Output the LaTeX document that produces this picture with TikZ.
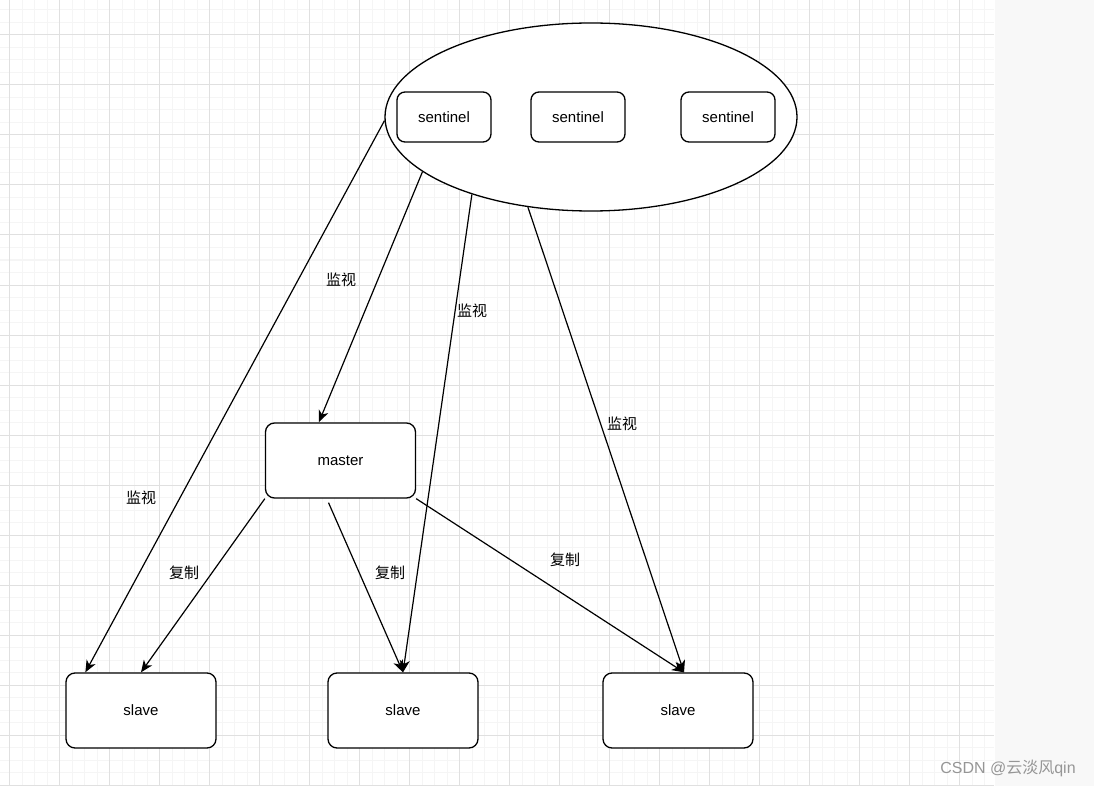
\documentclass[tikz,border=0pt]{standalone}
\usepackage{fontspec}
\setmainfont{Liberation Sans}
\newfontfamily\cjk{Noto Sans CJK SC}
\usetikzlibrary{shapes.geometric, arrows.meta}
\definecolor{gridminor}{RGB}{245,245,245}
\definecolor{gridmajor}{RGB}{224,224,224}
\definecolor{panelgray}{RGB}{248,248,248}
\definecolor{markgray}{RGB}{150,150,150}
\tikzset{
  nodebox/.style={draw, line width=1.3pt, rounded corners=9pt, fill=white, minimum width=150pt, minimum height=75pt, font=\fontsize{15}{18}\selectfont},
  sentbox/.style={nodebox, minimum width=94pt, minimum height=50pt, rounded corners=8pt},
  link/.style={line width=1.2pt, -{Stealth[length=12pt,width=10pt,inset=3.5pt]}},
  lbl/.style={font=\cjk\fontsize{15}{18}\selectfont}
}

\begin{document}
\begin{tikzpicture}[x=1pt,y=-1pt]
\useasboundingbox (0,0) rectangle (1094,786);
\fill[white] (0,0) rectangle (995,786);
\fill[panelgray] (995,0) rectangle (1094,786);
% grid
\foreach \gx in {-3,9.5,...,994} \draw[gridminor, line width=1pt] (\gx,0) -- (\gx,786);
\foreach \gy in {-2.5,10,...,786} \draw[gridminor, line width=1pt] (0,\gy) -- (994,\gy);
\foreach \gx in {9.5,59.5,...,994} \draw[gridmajor, line width=1pt] (\gx,0) -- (\gx,786);
\foreach \gy in {35,85,...,786} \draw[gridmajor, line width=1pt] (0,\gy) -- (994,\gy);

% sentinel group
\node[draw, ellipse, line width=1.3pt, fill=white, inner sep=0pt, minimum width=412pt, minimum height=188pt] (group) at (591,117) {};
\node[sentbox] (sent1) at (444,117) {sentinel};
\node[sentbox] (sent2) at (578,117) {sentinel};
\node[sentbox] (sent3) at (728,117) {sentinel};

% master and slaves
\node[nodebox] (master) at (340.5,460.5) {master};
\node[nodebox] (slave1) at (141,710.5) {slave};
\node[nodebox] (slave2) at (403,710.5) {slave};
\node[nodebox] (slave3) at (678,710.5) {slave};

% monitoring
\draw[link] (group.181) -- ([xshift=20pt]slave1.north west);
\draw[link] (group.198.7) -- ([xshift=54pt]master.north west);
\draw[link] (group.213) -- (slave2.north);
\draw[link] (group.235.4) -- ([xshift=6pt]slave3.north);
\node[lbl] (watch1) at (141,498) {监视};
\node[lbl] (watch2) at (341,280) {监视};
\node[lbl] (watch3) at (472,311) {监视};
\node[lbl] (watch4) at (622,424) {监视};

% replication
\draw[link] (master.south west) -- (slave1.north);
\draw[link] ([xshift=-12pt,yshift=-4pt]master.south) -- (slave2.north);
\draw[link] (master.south east) -- ([xshift=6pt]slave3.north);
\node[lbl] (copy1) at (184,573) {复制};
\node[lbl] (copy2) at (390,573) {复制};
\node[lbl] (copy3) at (565,560) {复制};

\node[text=markgray, font=\fontsize{16}{19}\selectfont] (mark) at (1008,768) {CSDN @{\cjk 云淡风}qin};
\end{tikzpicture}
\end{document}
